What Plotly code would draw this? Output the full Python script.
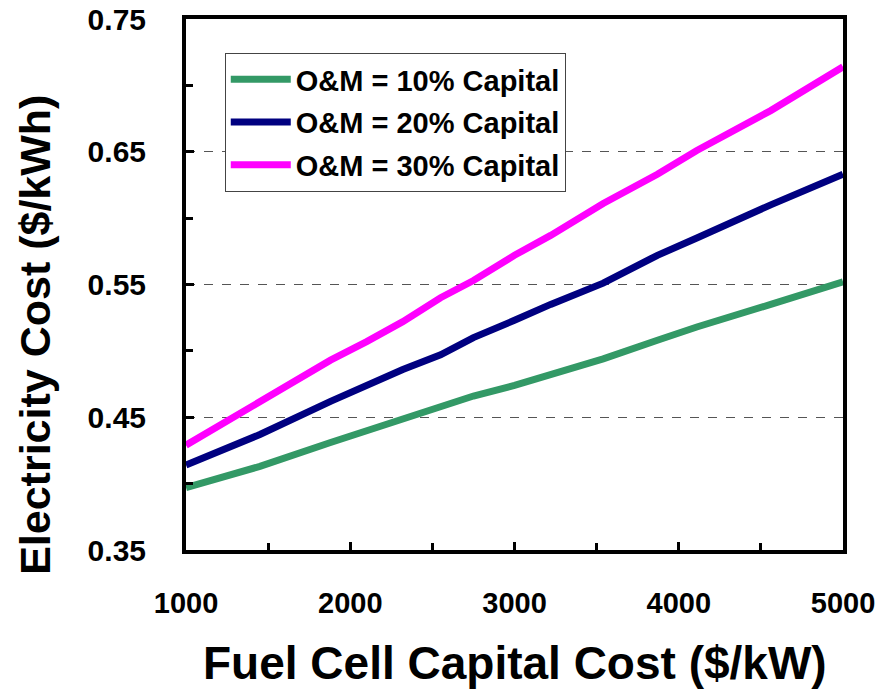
import plotly.graph_objects as go

capital_cost = [1000, 1450, 1880, 2100, 2320, 2550, 2750, 3000, 3220, 3540, 3870, 4110, 4560, 5000]
om_10 = [0.397, 0.413, 0.431, 0.440, 0.449, 0.458, 0.466, 0.474, 0.482, 0.494, 0.508, 0.518, 0.535, 0.552]
om_20 = [0.414, 0.437, 0.462, 0.474, 0.486, 0.497, 0.510, 0.523, 0.535, 0.551, 0.572, 0.585, 0.610, 0.633]
om_30 = [0.429, 0.461, 0.493, 0.507, 0.522, 0.540, 0.553, 0.572, 0.587, 0.611, 0.633, 0.651, 0.681, 0.714]
series_names = ["O&M = 10% Capital", "O&M = 20% Capital", "O&M = 30% Capital"]
series_colors = ["#339966", "#000080", "#FF00FF"]
x_ticks = [1000, 2000, 3000, 4000, 5000]
y_ticks = [0.35, 0.45, 0.55, 0.65, 0.75]

fig = go.Figure()
for i, (name, vals, col) in enumerate(zip(series_names, [om_10, om_20, om_30], series_colors)):
    fig.add_trace(go.Scatter(x=capital_cost, y=vals, mode="lines", name=name,
                             legendgroup=f"g{i}",
                             line=dict(color=col, width=7)))

bold = dict(family="Liberation Sans, Arial, sans-serif", weight="bold", color="black")

fig.update_layout(
    width=893, height=694,
    margin=dict(l=178, r=58, t=11, b=152, autoexpand=False),
    paper_bgcolor="white", plot_bgcolor="white",
    showlegend=True,
    legend=dict(x=0.059, y=0.936, xanchor="left", yanchor="top",
                bordercolor="#444", borderwidth=1, bgcolor="white",
                font=dict(size=29, **bold), tracegroupgap=2,
                itemwidth=60),
    xaxis=dict(range=[1000, 5000], tickvals=x_ticks, ticks="inside", ticklen=8, tickwidth=3,
               tickcolor="black", showline=True, linewidth=4, linecolor="black", mirror=True,
               showgrid=False, zeroline=False, automargin=False, ticklabeloverflow="allow",
               minor=dict(dtick=500, ticks="inside", ticklen=7, tickwidth=3, tickcolor="black", showgrid=False),
               tickfont=dict(size=29, **bold), ticklabelstandoff=24),
    yaxis=dict(range=[0.35, 0.75], tickvals=y_ticks, tickformat=".2f", ticks="inside", ticklen=8, tickwidth=3,
               tickcolor="black", showline=True, linewidth=4, linecolor="black", mirror=True,
               showgrid=True, gridcolor="#555", griddash="dash", gridwidth=1, zeroline=False, automargin=False,
               ticklabeloverflow="allow",
               minor=dict(dtick=0.05, tick0=0.35, ticks="inside", ticklen=7, tickwidth=3, tickcolor="black", showgrid=False),
               tickfont=dict(size=30, **bold), ticklabelstandoff=30),
    annotations=[
        dict(text="Electricity Cost ($/kWh)", xref="paper", yref="paper", x=-0.23, y=0.405,
             xanchor="center", yanchor="middle", textangle=-90, showarrow=False,
             font=dict(size=43, **bold)),
        dict(text="Fuel Cell Capital Cost ($/kW)", xref="paper", yref="paper", x=0.5, y=-0.212,
             xanchor="center", yanchor="middle", showarrow=False,
             font=dict(size=46, **bold)),
    ],
)

fig.write_html("out.html")
